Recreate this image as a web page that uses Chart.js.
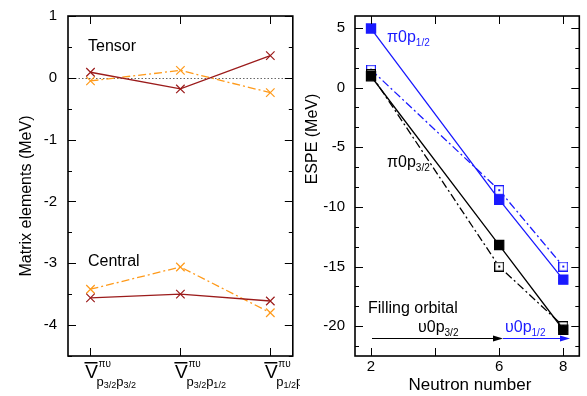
<!DOCTYPE html>
<html>
<head>
<meta charset="utf-8">
<script src="https://cdn.jsdelivr.net/npm/chart.js@4.4.1/dist/chart.umd.min.js"></script>
<style>
  body { margin: 0; background: #fff; }
  #wrap { position: relative; width: 587px; height: 396px; overflow: hidden; }
  #left { position: absolute; left: 0; top: 0; }
  #right { position: absolute; left: 300px; top: 0; }
</style>
</head>
<body>
<div id="wrap">
  <canvas id="left" width="300" height="396"></canvas>
  <canvas id="right" width="287" height="396"></canvas>
</div>
<script>
// left panel: matrix elements
const orbitalPairs = [["3/2", "3/2"], ["3/2", "1/2"], ["1/2", "1/2"]];
const tensorSolid = [0.09, -0.18, 0.36];
const tensorDashed = [-0.05, 0.12, -0.24];
const centralSolid = [-3.56, -3.5, -3.61];
const centralDashed = [-3.42, -3.06, -3.8];
const matrixTicks = [-4, -3, -2, -1, 0, 1];

// right panel: ESPE
const neutronNumbers = [2, 6, 8];
const pi12Filled = [4.95, -9.4, -16.1];
const pi12Open = [1.5, -8.6, -15.0];
const pi32Filled = [0.95, -13.2, -20.3];
const pi32Open = [1.1, -15.0, -20.0];
const espeTicks = [-20, -15, -10, -5, 0, 5];
const neutronTicks = [2, 6, 8];

const FONT = "Liberation Sans, Arial, sans-serif";
const darkRed = "#9b1b1b";
const orange = "#ff9a1a";
const blue = "#1a1aff";
const dashDot = [8, 3, 2, 3];

function pts(xs, ys) {
  return ys.map((v, i) => ({ x: xs[i], y: v }));
}

// open square with a dot in the middle
function openSquare(color) {
  const c = document.createElement("canvas");
  c.width = 10; c.height = 10;
  const g = c.getContext("2d");
  g.fillStyle = "#fff";
  g.fillRect(0, 0, 10, 10);
  g.strokeStyle = color;
  g.lineWidth = 1.2;
  g.strokeRect(0.6, 0.6, 8.8, 8.8);
  g.fillStyle = color;
  g.fillRect(4, 4, 2, 2);
  return c;
}

// frame with inward ticks
const frameTicks = {
  id: "frameTicks",
  afterDatasetsDraw(chart, args, o) {
    const { ctx, chartArea: a, scales: { x, y } } = chart;
    ctx.save();
    ctx.strokeStyle = "#000";
    ctx.lineWidth = 1;
    ctx.beginPath();
    const hTick = (v, len) => {
      const p = Math.round(y.getPixelForValue(v)) + 0.5;
      ctx.moveTo(a.left, p); ctx.lineTo(a.left + len, p);
      ctx.moveTo(a.right, p); ctx.lineTo(a.right - len, p);
    };
    const vTick = (v, len) => {
      const p = Math.round(x.getPixelForValue(v)) + 0.5;
      ctx.moveTo(p, a.top); ctx.lineTo(p, a.top + len);
      ctx.moveTo(p, a.bottom); ctx.lineTo(p, a.bottom - len);
    };
    o.yMajor.forEach(v => hTick(v, 8));
    o.yMinor.forEach(v => hTick(v, 4));
    o.xMajor.forEach(v => vTick(v, 8));
    ctx.stroke();
    ctx.lineWidth = 1.6;
    ctx.strokeRect(a.left, a.top, a.right - a.left, a.bottom - a.top);
    ctx.restore();
  }
};

function writeParts(ctx, x, y, parts, color) {
  ctx.fillStyle = color || "#000";
  ctx.textAlign = "left";
  ctx.textBaseline = "alphabetic";
  parts.forEach(p => {
    ctx.font = p.size + "px " + FONT;
    ctx.fillText(p.t, x, y + (p.dy || 0));
    x += ctx.measureText(p.t).width;
  });
}

const leftExtras = {
  id: "leftExtras",
  beforeDatasetsDraw(chart) {
    const { ctx, chartArea: a, scales: { y } } = chart;
    const p = Math.round(y.getPixelForValue(0)) + 0.5;
    ctx.save();
    ctx.strokeStyle = "#666";
    ctx.setLineDash([1.5, 2]);
    ctx.beginPath();
    ctx.moveTo(a.left, p); ctx.lineTo(a.right, p);
    ctx.stroke();
    ctx.restore();
  },
  afterDraw(chart) {
    const { ctx, scales: { x } } = chart;
    ctx.save();
    writeParts(ctx, 88, 51, [{ t: "Tensor", size: 16 }]);
    writeParts(ctx, 88, 266, [{ t: "Central", size: 16 }]);
    orbitalPairs.forEach((pair, i) => {
      const cx = x.getPixelForValue(i) + 1;
      ctx.fillStyle = "#000";
      ctx.font = "19px " + FONT;
      ctx.textAlign = "center";
      ctx.fillText("V", cx, 378);
      ctx.fillRect(cx - 7, 362, 13, 1.5);
      writeParts(ctx, cx + 7, 367, [{ t: "πυ", size: 10 }]);
      writeParts(ctx, cx + 5, 386, [
        { t: "p", size: 13 }, { t: pair[0], size: 9, dy: 2 },
        { t: "p", size: 13 }, { t: pair[1], size: 9, dy: 2 }
      ]);
    });
    ctx.translate(27, 196);
    ctx.rotate(-Math.PI / 2);
    ctx.fillStyle = "#000";
    ctx.font = "16px " + FONT;
    ctx.textAlign = "center";
    ctx.textBaseline = "middle";
    ctx.fillText("Matrix elements (MeV)", 0, 0);
    ctx.restore();
  }
};

function arrow(ctx, x0, x1, y, color) {
  ctx.strokeStyle = color;
  ctx.fillStyle = color;
  ctx.lineWidth = 1;
  ctx.beginPath();
  ctx.moveTo(x0, y); ctx.lineTo(x1 - 8, y);
  ctx.stroke();
  ctx.beginPath();
  ctx.moveTo(x1, y); ctx.lineTo(x1 - 10, y - 3); ctx.lineTo(x1 - 10, y + 3);
  ctx.closePath();
  ctx.fill();
}

const rightExtras = {
  id: "rightExtras",
  afterDraw(chart) {
    const ctx = chart.ctx;
    ctx.save();
    writeParts(ctx, 87, 42, [{ t: "π0p", size: 16 }, { t: "1/2", size: 10, dy: 4 }], blue);
    writeParts(ctx, 87, 167, [{ t: "π0p", size: 16 }, { t: "3/2", size: 10, dy: 4 }]);
    writeParts(ctx, 68, 313, [{ t: "Filling orbital", size: 16 }]);
    writeParts(ctx, 118, 332, [{ t: "υ0p", size: 16 }, { t: "3/2", size: 10, dy: 4 }]);
    writeParts(ctx, 205, 332, [{ t: "υ0p", size: 16 }, { t: "1/2", size: 10, dy: 4 }], blue);
    arrow(ctx, 72, 203, 338.5, "#000");
    arrow(ctx, 203, 270, 338.5, blue);
    ctx.translate(13, 139);
    ctx.rotate(-Math.PI / 2);
    ctx.fillStyle = "#000";
    ctx.font = "16px " + FONT;
    ctx.textAlign = "center";
    ctx.textBaseline = "middle";
    ctx.fillText("ESPE (MeV)", 0, 0);
    ctx.restore();
    ctx.save();
    ctx.fillStyle = "#000";
    ctx.font = "17px " + FONT;
    ctx.textAlign = "center";
    ctx.textBaseline = "middle";
    ctx.fillText("Neutron number", 170, 385);
    ctx.restore();
  }
};

function lineSet(data, color, dashed, style, radius, fill) {
  return {
    data: data,
    borderColor: color,
    borderWidth: 1.3,
    borderDash: dashed ? dashDot : [],
    pointStyle: style,
    pointRadius: radius,
    pointBorderColor: color,
    pointBackgroundColor: fill,
    pointBorderWidth: 1.2,
    showLine: true,
    tension: 0
  };
}

// keep the plot box where the reference has it
function fixY(width) {
  return s => { s.width = width; s.paddingTop = 0; s.paddingBottom = 0; };
}
function fixX(s) {
  s.height = 40; s.paddingLeft = 0; s.paddingRight = 0;
}

const leftIdx = orbitalPairs.map((p, i) => i);
const half = [];
for (let v = -4.5; v <= 1; v += 0.5) if (v % 1 !== 0) half.push(v);

new Chart(document.getElementById("left"), {
  type: "scatter",
  data: {
    datasets: [
      lineSet(pts(leftIdx, tensorSolid), darkRed, false, "crossRot", 6, darkRed),
      lineSet(pts(leftIdx, tensorDashed), orange, true, "crossRot", 6, orange),
      lineSet(pts(leftIdx, centralSolid), darkRed, false, "crossRot", 6, darkRed),
      lineSet(pts(leftIdx, centralDashed), orange, true, "crossRot", 6, orange)
    ]
  },
  options: {
    responsive: false,
    animation: false,
    layout: { padding: { left: 0, right: 2, top: 16, bottom: 0 } },
    plugins: {
      legend: { display: false },
      tooltip: { enabled: false },
      frameTicks: { yMajor: matrixTicks, yMinor: half, xMajor: leftIdx }
    },
    scales: {
      x: {
        type: "linear", min: -0.25, max: 2.25,
        grid: { display: false, drawTicks: false },
        border: { display: false },
        ticks: { display: false },
        afterFit: fixX
      },
      y: {
        min: -4.5, max: 1,
        grid: { display: false, drawTicks: false },
        border: { display: false },
        afterBuildTicks: s => { s.ticks = matrixTicks.map(v => ({ value: v })); },
        ticks: { padding: 11, color: "#000", font: { family: FONT, size: 15 } },
        afterFit: fixY(68)
      }
    }
  },
  plugins: [frameTicks, leftExtras]
});

const thirds = [];
for (let k = -13; k <= 3; k++) if (k % 3 !== 0) thirds.push(k * 5 / 3);

new Chart(document.getElementById("right"), {
  type: "scatter",
  data: {
    datasets: [
      lineSet(pts(neutronNumbers, pi32Filled), "#000", false, "rect", 6.5, "#000"),
      lineSet(pts(neutronNumbers, pi12Filled), blue, false, "rect", 6.5, blue),
      lineSet(pts(neutronNumbers, pi32Open), "#000", true, openSquare("#000"), 5, "#fff"),
      lineSet(pts(neutronNumbers, pi12Open), blue, true, openSquare(blue), 5, "#fff")
    ]
  },
  options: {
    responsive: false,
    animation: false,
    layout: { padding: { left: 0, right: 1, top: 16, bottom: 0 } },
    plugins: {
      legend: { display: false },
      tooltip: { enabled: false },
      frameTicks: { yMajor: espeTicks, yMinor: thirds, xMajor: [2, 4, 6, 8] }
    },
    scales: {
      x: {
        type: "linear", min: 1.5, max: 8.5,
        grid: { display: false, drawTicks: false },
        border: { display: false },
        afterBuildTicks: s => { s.ticks = neutronTicks.map(v => ({ value: v })); },
        ticks: { padding: 2, color: "#000", font: { family: FONT, size: 15 } },
        afterFit: fixX
      },
      y: {
        min: -22.5, max: 6,
        grid: { display: false, drawTicks: false },
        border: { display: false },
        afterBuildTicks: s => { s.ticks = espeTicks.map(v => ({ value: v })); },
        ticks: { padding: 10, color: "#000", font: { family: FONT, size: 15 } },
        afterFit: fixY(55)
      }
    }
  },
  plugins: [frameTicks, rightExtras]
});
</script>
</body>
</html>
